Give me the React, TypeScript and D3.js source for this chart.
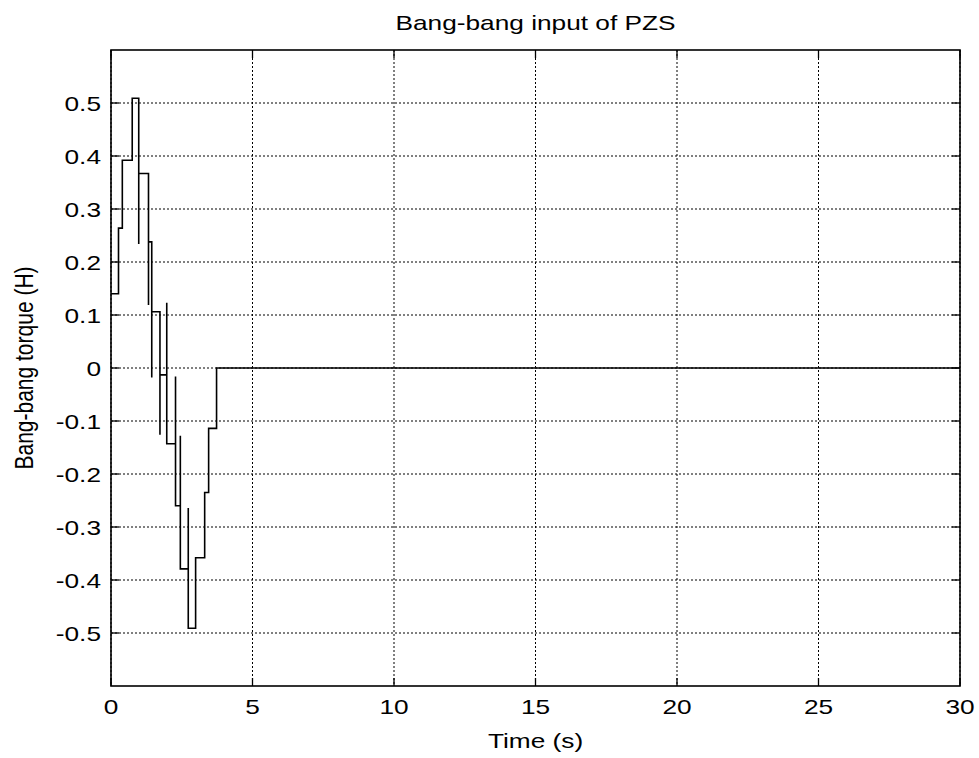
import React from "react";
import * as d3 from "d3";

// Switching instants (s) and torque levels held after each instant
const switchTimes = [0, 0.265, 0.40, 0.75, 0.98, 1.325, 1.44, 1.73, 1.97, 2.28, 2.45, 2.73, 2.99, 3.31, 3.45, 3.73];
const levels = [0.14, 0.264, 0.392, 0.509, 0.367, 0.238, 0.106, -0.013, -0.143, -0.26, -0.379, -0.491, -0.358, -0.235, -0.114, 0];
// Transient spike values at each switch (null = none)
const spikes: (number | null)[] = [null, null, null, null, 0.234, 0.119, -0.018, -0.126, 0.123, -0.016, -0.128, -0.264, null, null, null, null];
const endTime = 30;

const xTicks = [0, 5, 10, 15, 20, 25, 30];
const yTicks = [-0.5, -0.4, -0.3, -0.2, -0.1, 0, 0.1, 0.2, 0.3, 0.4, 0.5];

const W = 979, H = 758;
const L = 111, R = 960, T = 50, B = 686;
const SX = 1.25;
const FONT = "'Liberation Sans', Arial, Helvetica, sans-serif";
const FS = 21;

const fmtY = (v: number) => (v === 0 ? "0" : v.toFixed(1).replace("\u2212", "-"));

export default function App() {
  const x = d3.scaleLinear().domain([0, 30]).range([L, R]);
  const y = d3.scaleLinear().domain([-0.6, 0.6]).range([B, T]);

  const pts: [number, number][] = [];
  switchTimes.forEach((t, i) => {
    if (i === 0) {
      pts.push([t, levels[0]]);
    } else {
      pts.push([t, levels[i - 1]]);
      const s = spikes[i];
      if (s !== null) pts.push([t, s]);
      pts.push([t, levels[i]]);
    }
  });
  pts.push([endTime, levels[levels.length - 1]]);

  const line = d3.line<[number, number]>().x(d => x(d[0])).y(d => y(d[1]));
  const tickLen = 8;

  return (
    <svg width={W} height={H} style={{ position: "absolute", left: 0, top: 0, background: "#fff" }}>
      <rect x={0} y={0} width={W} height={H} fill="#fff" />
      {/* grid */}
      {xTicks.map(t => (
        <line key={"gx" + t} x1={x(t)} x2={x(t)} y1={T} y2={B} stroke="#000" strokeWidth={1} strokeDasharray="2,2" />
      ))}
      {yTicks.map(t => (
        <line key={"gy" + t} x1={L} x2={R} y1={y(t)} y2={y(t)} stroke="#000" strokeWidth={1} strokeDasharray="2,2" />
      ))}
      {/* ticks */}
      {xTicks.map(t => (
        <g key={"tx" + t}>
          <line x1={x(t)} x2={x(t)} y1={B} y2={B - tickLen} stroke="#000" strokeWidth={1.3} />
          <line x1={x(t)} x2={x(t)} y1={T} y2={T + tickLen} stroke="#000" strokeWidth={1.3} />
        </g>
      ))}
      {yTicks.map(t => (
        <g key={"ty" + t}>
          <line x1={L} x2={L + tickLen} y1={y(t)} y2={y(t)} stroke="#000" strokeWidth={1.3} />
          <line x1={R} x2={R - tickLen} y1={y(t)} y2={y(t)} stroke="#000" strokeWidth={1.3} />
        </g>
      ))}
      {/* data */}
      <path d={line(pts) || ""} fill="none" stroke="#000" strokeWidth={1.6} />
      {/* box */}
      <rect x={L} y={T} width={R - L} height={B - T} fill="none" stroke="#000" strokeWidth={1.6} />
      {/* tick labels */}
      {xTicks.map(t => (
        <text key={"lx" + t} transform={`translate(${x(t)},714) scale(${SX},1)`} textAnchor="middle"
          fontFamily={FONT} fontSize={FS} fill="#000">{String(t)}</text>
      ))}
      {yTicks.map(t => (
        <text key={"ly" + t} transform={`translate(${L - 10},${y(t)}) scale(${SX},1)`} textAnchor="end" dy="0.36em"
          fontFamily={FONT} fontSize={FS} fill="#000">{fmtY(t)}</text>
      ))}
      {/* title & labels */}
      <text transform={`translate(${(L + R) / 2},30) scale(${SX},1)`} textAnchor="middle" fontFamily={FONT} fontSize={FS} fill="#000">
        Bang-bang input of PZS
      </text>
      <text transform={`translate(${(L + R) / 2},748) scale(${SX},1)`} textAnchor="middle" fontFamily={FONT} fontSize={FS} fill="#000">
        Time (s)
      </text>
      <text transform={`translate(33,${(T + B) / 2}) scale(${SX},1) rotate(-90)`} textAnchor="middle" fontFamily={FONT} fontSize={FS} fill="#000">
        Bang-bang torque (H)
      </text>
    </svg>
  );
}
